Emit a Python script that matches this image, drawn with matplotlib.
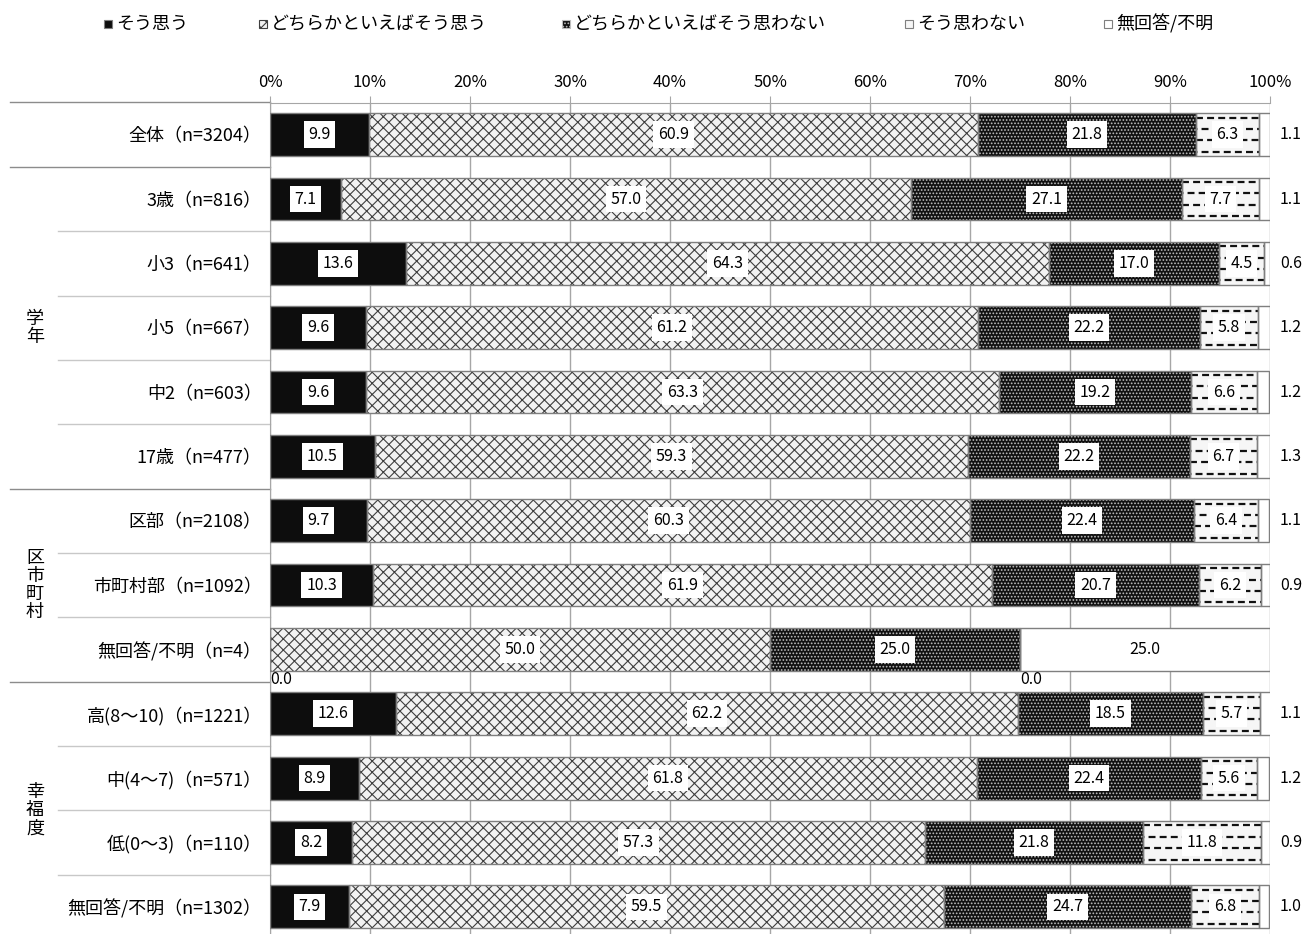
import matplotlib
matplotlib.use("Agg")
import matplotlib.pyplot as plt
import matplotlib.transforms as mtransforms
from matplotlib.patches import Rectangle
import numpy as np

plt.rcParams["font.family"] = ["Noto Sans CJK JP", "DejaVu Sans"]
plt.rcParams["hatch.linewidth"] = 0.8
plt.rcParams["lines.scale_dashes"] = False

categories = ["そう思う", "どちらかといえばそう思う", "どちらかといえばそう思わない",
              "そう思わない", "無回答/不明"]

row_labels = [
    "全体（n=3204）",
    "3歳（n=816）",
    "小3（n=641）",
    "小5（n=667）",
    "中2（n=603）",
    "17歳（n=477）",
    "区部（n=2108）",
    "市町村部（n=1092）",
    "無回答/不明（n=4）",
    "高(8～10)（n=1221）",
    "中(4～7)（n=571）",
    "低(0～3)（n=110）",
    "無回答/不明（n=1302）",
]

group_names = ["学年", "区市町村", "幸福度"]
group_rows = [(1, 5), (6, 8), (9, 12)]

agree = [9.9, 7.1, 13.6, 9.6, 9.6, 10.5, 9.7, 10.3, 0.0, 12.6, 8.9, 8.2, 7.9]
rather_agree = [60.9, 57.0, 64.3, 61.2, 63.3, 59.3, 60.3, 61.9, 50.0, 62.2, 61.8, 57.3, 59.5]
rather_disagree = [21.8, 27.1, 17.0, 22.2, 19.2, 22.2, 22.4, 20.7, 25.0, 18.5, 22.4, 21.8, 24.7]
disagree = [6.3, 7.7, 4.5, 5.8, 6.6, 6.7, 6.4, 6.2, 0.0, 5.7, 5.6, 11.8, 6.8]
no_answer = [1.1, 1.1, 0.6, 1.2, 1.2, 1.3, 1.1, 0.9, 25.0, 1.1, 1.2, 0.9, 1.0]

series = [agree, rather_agree, rather_disagree, disagree, no_answer]

# face colour, hatch, hatch colour for each category
styles = [
    ("#0d0d0d", None, "#0d0d0d"),
    ("#f2f2f2", "xxx", "#3f3f3f"),
    ("#111111", ".....", "#bfbfbf"),
    ("#f6f6f6", None, "#f6f6f6"),
    ("#ffffff", None, "#ffffff"),
]

W, H = 1303, 934
fig = plt.figure(figsize=(W / 100, H / 100), dpi=100)
ax = fig.add_axes([270 / W, 1 - 939 / H, 1000 / W, (939 - 102.5) / H])

n = len(row_labels)
y = np.arange(n)
bar_h = 0.665
left = np.zeros(n)

for k, vals in enumerate(series):
    vals = np.array(vals)
    face, hatch, hcol = styles[k]
    bars = ax.barh(y, vals, left=left, height=bar_h, color=face, hatch=hatch,
                   edgecolor=hcol, linewidth=0, zorder=2)
    ax.barh(y, vals, left=left, height=bar_h, fill=False,
            edgecolor="#7f7f7f", linewidth=1, zorder=3)

    if k == 3:
        # dashed horizontal pattern
        for i, b in enumerate(bars):
            if vals[i] <= 0:
                continue
            for j, frac in enumerate([0.1, 0.37, 0.63, 0.9]):
                yy = y[i] - bar_h / 2 + frac * bar_h
                ln, = ax.plot([left[i], left[i] + vals[i]], [yy, yy], color="#111111",
                              lw=1.6, ls=(4 * (j % 2), (5, 3)), zorder=2.5)
                ln.set_clip_path(b)

    for i, v in enumerate(vals):
        if k < 4:
            if v > 0:
                ax.text(left[i] + v / 2, y[i], f"{v:.1f}", ha="center", va="center",
                        fontsize=11.5, zorder=5,
                        bbox=dict(facecolor="white", edgecolor="none", pad=3.5))
            else:
                ax.text(left[i], y[i] + bar_h / 2, f"{v:.1f}", ha="left", va="top",
                        fontsize=11.5, zorder=5)
        else:
            if v >= 5:
                ax.text(left[i] + v / 2, y[i], f"{v:.1f}", ha="center", va="center",
                        fontsize=11.5, zorder=5)
            else:
                ax.text(101, y[i], f"{v:.1f}", ha="left", va="center", fontsize=11.5,
                        zorder=5, clip_on=False)
    left = left + vals

ax.set_xlim(0, 100)
ax.set_ylim(n - 0.5, -0.5)
ax.xaxis.tick_top()
ax.set_xticks(np.arange(0, 101, 10))
ax.set_xticklabels([f"{t}%" for t in range(0, 101, 10)], fontsize=12)
ax.tick_params(axis="x", length=5, color="#a6a6a6", pad=3)
ax.set_yticks(y)
ax.set_yticklabels(row_labels, fontsize=13)
ax.tick_params(axis="y", length=0, pad=6)
ax.grid(axis="x", color="#a6a6a6", lw=1)
ax.set_axisbelow(True)
for s in ["right", "bottom"]:
    ax.spines[s].set_visible(False)
for s in ["top", "left"]:
    ax.spines[s].set_color("#a6a6a6")

# separators and group labels on the left
trans = mtransforms.blended_transform_factory(ax.transAxes, ax.transData)
for b in [-0.5, 0.5, 5.5, 8.5, n - 0.5]:
    ax.plot([-0.26, 0], [b, b], transform=trans, clip_on=False, color="#8c8c8c", lw=1)
for g0, g1 in group_rows:
    for b in np.arange(g0 + 0.5, g1, 1.0):
        ax.plot([-0.212, 0], [b, b], transform=trans, clip_on=False, color="#c8c8c8", lw=1)
for name, (g0, g1) in zip(group_names, group_rows):
    ax.text(-0.235, (g0 + g1) / 2, "\n".join(name), transform=trans, ha="center",
            va="center", fontsize=13, linespacing=1.0)

# legend
leg_x = [104, 259, 562, 905, 1104]
leg_y = 24
for k, name in enumerate(categories):
    face, hatch, hcol = styles[k]
    fig.patches.append(Rectangle((leg_x[k] / W, 1 - (leg_y + 4) / H), 8 / W, 8 / H,
                                 transform=fig.transFigure, facecolor=face, hatch=hatch,
                                 edgecolor="#7f7f7f" if hatch is None else hcol, lw=0.8))
    fig.text((leg_x[k] + 12) / W, 1 - leg_y / H, name, ha="left", va="center", fontsize=13)

fig.savefig("out.png", dpi=100)
